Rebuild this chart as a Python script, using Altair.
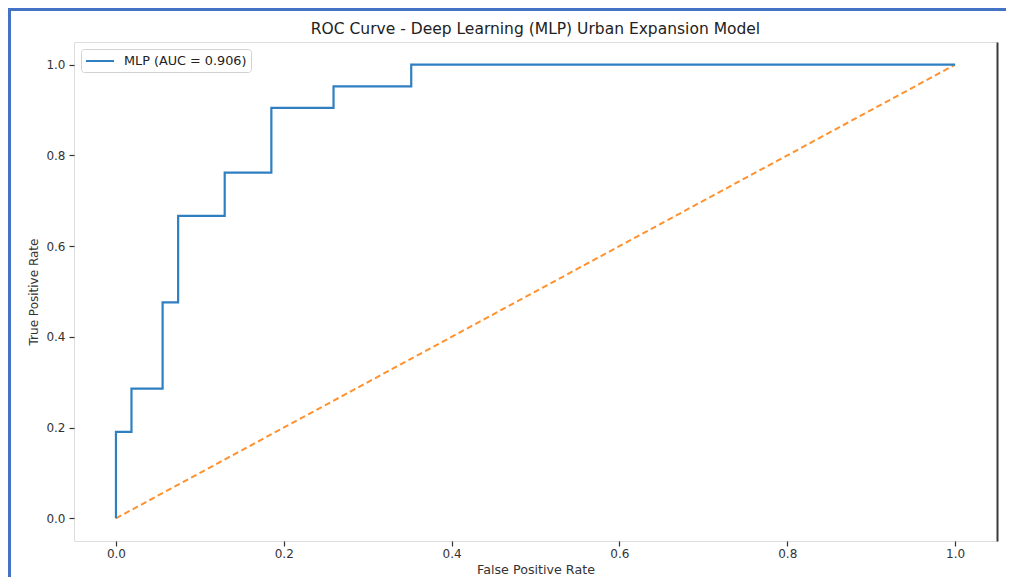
import altair as alt
import pandas as pd

# ---- data ----
fpr = [0.0, 0.0, 0.0185, 0.0185, 0.0556, 0.0556, 0.0741, 0.0741, 0.1296, 0.1296,
       0.1852, 0.1852, 0.2593, 0.2593, 0.3519, 0.3519, 1.0]
tpr = [0.0, 0.1905, 0.1905, 0.2857, 0.2857, 0.4762, 0.4762, 0.6667, 0.6667, 0.7619,
       0.7619, 0.9048, 0.9048, 0.9524, 0.9524, 1.0, 1.0]
diag_x = [0.0, 1.0]
diag_y = [0.0, 1.0]
auc_label = "MLP (AUC = 0.906)"
tick_values = [0.0, 0.2, 0.4, 0.6, 0.8, 1.0]
title_text = "ROC Curve - Deep Learning (MLP) Urban Expansion Model"

FONT = "DejaVu Sans"
BLUE = "#2f7fc1"
ORANGE = "#ff922e"
FRAME = "#4472c4"

roc_df = pd.DataFrame({"fpr": fpr, "tpr": tpr, "idx": list(range(len(fpr))),
                       "model": [auc_label] * len(fpr)})
diag_df = pd.DataFrame({"fpr": diag_x, "tpr": diag_y, "idx": [0, 1]})
one_row = pd.DataFrame({"k": [0]})

x_scale = alt.Scale(domain=[-0.05, 1.05], nice=False, zero=False)
y_scale = alt.Scale(domain=[-0.05, 1.05], nice=False, zero=False)

x_axis = alt.Axis(values=tick_values, format=".1f", grid=False, domain=False,
                  tickSize=5, tickColor="#333", tickWidth=1.2, labelPadding=2,
                  labelFont=FONT, labelFontSize=12, labelColor="#333",
                  title="False Positive Rate", titleFont=FONT, titleFontSize=12.7,
                  titleFontWeight="normal", titleColor="#333", titlePadding=4)
y_axis = alt.Axis(values=tick_values, format=".1f", grid=False, domain=False,
                  tickSize=5, tickColor="#333", tickWidth=1.2, labelPadding=4,
                  labelFont=FONT, labelFontSize=12, labelColor="#333",
                  title="True Positive Rate", titleFont=FONT, titleFontSize=12,
                  titleFontWeight="normal", titleColor="#333", titlePadding=5)
y_axis_right = alt.Axis(orient="right", labels=False, ticks=False, grid=False,
                        title=None, domain=True, domainColor="#3a3a3a", domainWidth=2)

x_enc = alt.X("fpr:Q", scale=x_scale, axis=x_axis)

roc = alt.Chart(roc_df).mark_line(strokeWidth=2.2, interpolate="linear").encode(
    x=x_enc,
    y=alt.Y("tpr:Q", scale=y_scale, axis=y_axis),
    order="idx:Q",
    color=alt.Color("model:N",
                    scale=alt.Scale(domain=[auc_label], range=[BLUE]),
                    legend=alt.Legend(
                        title=None, orient="none", legendX=7, legendY=7,
                        symbolType="M-1,0L3,0", symbolSize=196, symbolStrokeWidth=2,
                        labelOffset=23, labelFont=FONT, labelFontSize=12.8,
                        labelColor="#222", padding=4, strokeColor="#d2d2d2",
                        fillColor="white", cornerRadius=3)),
)

diag = alt.Chart(diag_df).mark_line(strokeWidth=2, strokeDash=[6, 3.5], color=ORANGE).encode(
    x=x_enc,
    y=alt.Y("tpr:Q", scale=y_scale, axis=y_axis_right),
    order="idx:Q",
)

# decorative blue frame of the screenshot (top and left edges)
frame_top = alt.Chart(one_row).mark_rule(color=FRAME, strokeWidth=3).encode(
    x=alt.value(-66), x2=alt.value(940), y=alt.value(-32.5))
frame_left = alt.Chart(one_row).mark_rule(color=FRAME, strokeWidth=3).encode(
    x=alt.value(-64.5), y=alt.value(-32.5), y2=alt.value(545))

chart = alt.layer(diag, roc, frame_top, frame_left).resolve_axis(
    y="independent"
).properties(
    width=923, height=499,
    title=alt.TitleParams(title_text, font=FONT, fontSize=15.5, fontWeight="normal",
                          color="#222", anchor="middle", baseline="alphabetic",
                          offset=-41),
    autosize=alt.AutoSizeParams(type="none"),
    padding={"left": 66, "top": 34, "right": 9, "bottom": 36},
).configure_view(
    stroke="#bdbdbd", strokeWidth=2
).configure(background="white")

chart.save("out.html", embed_options={"renderer": "svg", "actions": False})
